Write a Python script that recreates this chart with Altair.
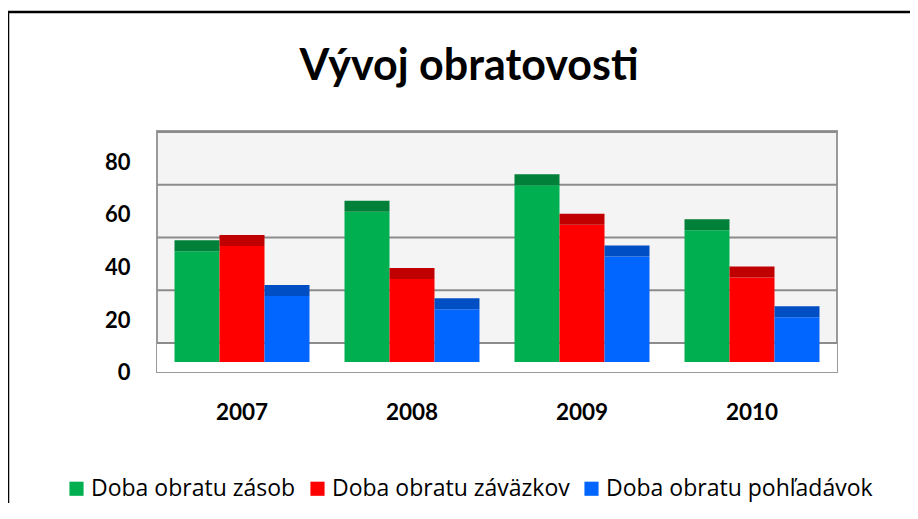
import altair as alt
import pandas as pd

years = ["2007", "2008", "2009", "2010"]
series = ["Doba obratu zásob", "Doba obratu záväzkov", "Doba obratu pohľadávok"]
zasob = [42, 57, 67, 50]
zavazkov = [44, 31.5, 52, 32]
pohladavok = [25, 20, 40, 17]
y_ticks = [0, 20, 40, 60, 80]

light = ["#00B050", "#FF0000", "#0066FF"]
dark = ["#008038", "#C00000", "#004EC4"]

rows = []
for s, vals in zip(series, [zasob, zavazkov, pohladavok]):
    for yr, v in zip(years, vals):
        rows.append({"year": yr, "series": s, "value": v})
df = pd.DataFrame(rows)
grid_df = pd.DataFrame({"tick": y_ticks})

W, H = 680, 241
FONT = "Lato"
ydom = [-3.8, 87.6]
yscale = alt.Scale(domain=ydom, nice=False, zero=False)
BACK = 7.2   # back-wall offset of the 3D gridlines (value units)
TOP = 4.17   # depth of the bars' top face (value units)

yaxis = alt.Axis(values=y_ticks, domain=False, ticks=False, grid=False,
                 labelPadding=27, labelOffset=11, labelFont=FONT,
                 labelFontSize=22, labelFontWeight="bold", labelColor="#000000")

xenc = alt.X("year:N", sort=years, title=None,
             scale=alt.Scale(paddingInner=0.206, paddingOuter=0.103),
             axis=alt.Axis(domain=False, ticks=False, labelAngle=0, labelPadding=29,
                           labelFont=FONT, labelFontSize=22.5, labelFontWeight="bold",
                           labelColor="#000000"))
xoff = alt.XOffset("series:N", sort=series)

floor = alt.Chart(pd.DataFrame({"tick": [0]})).transform_calculate(
    yb="datum.tick + %f" % BACK
).mark_rect(fill="#ffffff").encode(
    y=alt.Y("yb:Q", scale=yscale, title=None, axis=yaxis),
    y2=alt.value(H),
)

grid = alt.Chart(grid_df).transform_calculate(
    yb="datum.tick + %f" % BACK
).mark_rule(color="#8c8c8c", strokeWidth=2).encode(
    y=alt.Y("yb:Q", scale=yscale, title=None, axis=yaxis)
)

bars = alt.Chart(df).mark_bar(stroke=None).encode(
    x=xenc,
    xOffset=xoff,
    y=alt.Y("value:Q", scale=yscale, title=None, axis=yaxis),
    color=alt.Color("series:N", sort=series,
                    scale=alt.Scale(domain=series, range=light),
                    legend=alt.Legend(title=None, orient="none", direction="horizontal",
                                      legendX=-92, legendY=346, padding=0,
                                      symbolType="square",
                                      symbolSize=200, symbolStrokeWidth=0,
                                      labelFont="Open Sans", labelFontSize=23,
                                      labelColor="#000000",
                                      labelOffset=3, columnPadding=10, labelLimit=0)),
)

tops = alt.Chart(df).transform_calculate(
    top="datum.value + %f" % TOP
).mark_bar(stroke=None).encode(
    x=alt.X("year:N", sort=years),
    xOffset=xoff,
    y=alt.Y("value:Q", scale=yscale, title=None, axis=yaxis),
    y2="top:Q",
    color=alt.Color("series:N", sort=series,
                    scale=alt.Scale(domain=series, range=dark), legend=None),
)

title = alt.Chart(pd.DataFrame({"t": ["Vývoj obratovosti"]})).mark_text(
    font=FONT, fontSize=43, fontWeight="bold", color="#000000",
    baseline="alphabetic", align="center"
).encode(text="t:N", x=alt.value(312), y=alt.value(-51))

frame = alt.Chart(pd.DataFrame({"f": [1]})).mark_rect(
    fill=None, stroke="#000000", strokeWidth=2.5, clip=False
).encode(x=alt.value(-149), x2=alt.value(765), y=alt.value(-119), y2=alt.value(396))

chart = alt.layer(floor, grid, bars, tops, title, frame).resolve_scale(
    color="independent"
).properties(
    width=W, height=H,
    autosize=alt.AutoSizeParams(type="none"),
    padding={"left": 149, "top": 123, "right": 73, "bottom": 131},
    background="#ffffff",
).configure_view(
    fill="#f4f4f4", stroke="#9a9a9a", strokeWidth=2
)

chart.save("out.html", embed_options={"renderer": "svg", "actions": False})
